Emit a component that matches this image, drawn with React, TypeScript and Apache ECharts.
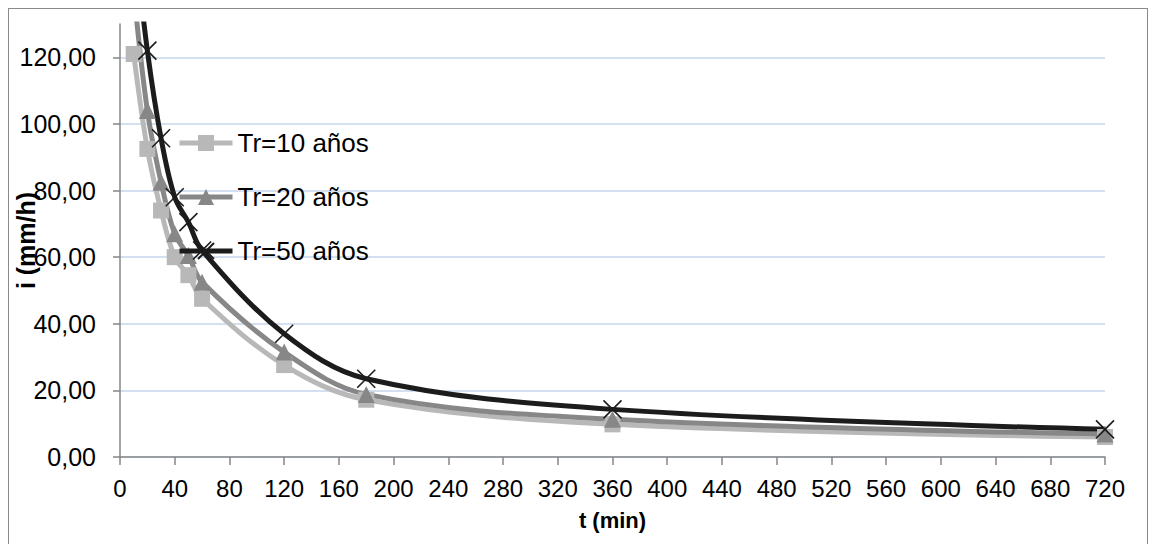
import React, { useEffect, useRef } from "react";
import * as echarts from "echarts";

// Duration of the storm (minutes)
const durations = [10, 20, 30, 40, 50, 60, 120, 180, 360, 720];

// Intensity (mm/h) for each return period
const tr10 = [121.0, 92.5, 74.0, 60.0, 54.6, 47.5, 27.6, 17.2, 9.8, 6.0];
const tr20 = [140.0, 104.0, 82.5, 67.0, 60.5, 52.5, 31.5, 18.8, 11.3, 6.9];
const tr50 = [158.0, 122.0, 95.7, 78.0, 70.5, 62.0, 37.0, 23.5, 14.3, 8.3];

const seriesNames = ["Tr=10 años", "Tr=20 años", "Tr=50 años"];
const yTicks = [0, 20, 40, 60, 80, 100, 120];

const FONT = "'Liberation Sans', Arial, sans-serif";
const AXIS_GRAY = "#868686";
const GRID_BLUE = "#c6d6ec";
const LINE_W = 5;

const pairs = (vals: number[]) => durations.map((t, i) => [t, vals[i]]);

export default function App() {
  const ref = useRef<HTMLDivElement>(null);

  useEffect(() => {
    if (!ref.current) return;
    const chart = echarts.init(ref.current, null, { renderer: "svg" });

    const baseSeries = (
      name: string,
      vals: number[],
      color: string,
      symbol: string,
      symbolSize: number,
      extra: any = {}
    ) => ({
      type: "line",
      name,
      data: pairs(vals),
      smooth: 0.35,
      symbol,
      symbolSize,
      showAllSymbol: true,
      clip: true,
      lineStyle: { color, width: LINE_W },
      itemStyle: { color, borderWidth: 0, ...extra },
      z: 3,
    });

    chart.setOption({
      animation: false,
      backgroundColor: "#ffffff",
      textStyle: { fontFamily: FONT, color: "#000" },
      grid: {
        left: 111,
        right: 42,
        top: 15,
        bottom: 87,
        containLabel: false,
        outerBoundsMode: "none",
      },
      legend: {
        data: seriesNames,
        orient: "vertical",
        left: 163,
        top: 116,
        itemWidth: 53,
        itemHeight: 20,
        itemGap: 28,
        lineStyle: { width: LINE_W },
        textStyle: { fontFamily: FONT, fontSize: 26, lineHeight: 26, color: "#000" },
        backgroundColor: "transparent",
      },
      xAxis: {
        type: "value",
        min: 0,
        max: 720,
        interval: 40,
        name: "t (min)",
        nameLocation: "middle",
        nameGap: 52,
        nameMoveOverlap: false,
        nameTextStyle: { fontFamily: FONT, fontSize: 22, fontWeight: "bold", color: "#000" },
        axisLine: { show: true, onZero: false, lineStyle: { color: AXIS_GRAY, width: 1.5 } },
        axisTick: { show: true, inside: false, length: 8, lineStyle: { color: AXIS_GRAY, width: 1.5 } },
        axisLabel: { fontFamily: FONT, fontSize: 24, color: "#000", margin: 19 },
        splitLine: { show: false },
      },
      yAxis: {
        type: "value",
        min: 0,
        max: 130,
        interval: 20,
        name: "i (mm/h)",
        nameLocation: "middle",
        nameGap: 82,
        nameRotate: 90,
        nameMoveOverlap: false,
        nameTextStyle: { fontFamily: FONT, fontSize: 25, fontWeight: "bold", color: "#000" },
        axisLine: { show: true, lineStyle: { color: AXIS_GRAY, width: 1.5 } },
        axisTick: {
          show: true,
          inside: false,
          length: 7,
          customValues: yTicks,
          lineStyle: { color: AXIS_GRAY, width: 1.5 },
        },
        axisLabel: {
          fontFamily: FONT,
          fontSize: 25,
          color: "#000",
          margin: 24,
          customValues: yTicks,
          formatter: (v: number) => v.toFixed(2).replace(".", ","),
        },
        splitLine: { show: true, lineStyle: { color: GRID_BLUE, width: 1.5 } },
      },
      series: [
        baseSeries(seriesNames[0], tr10, "#b8b8b8", "rect", 16),
        baseSeries(seriesNames[1], tr20, "#878787", "triangle", 17),
        baseSeries(
          seriesNames[2],
          tr50,
          "#1c1c1c",
          "path://M0,0L10,10M0,10L10,0",
          18,
          { borderColor: "#1c1c1c", borderWidth: 1.6 }
        ),
      ],
    });

    return () => chart.dispose();
  }, []);

  return (
    <div
      ref={ref}
      style={{
        width: 1140,
        height: 536,
        boxSizing: "border-box",
        borderTop: "1.5px solid #8a8a8a",
        borderLeft: "1.5px solid #8a8a8a",
        borderRight: "1.5px solid #8a8a8a",
        background: "#fff",
      }}
    />
  );
}
